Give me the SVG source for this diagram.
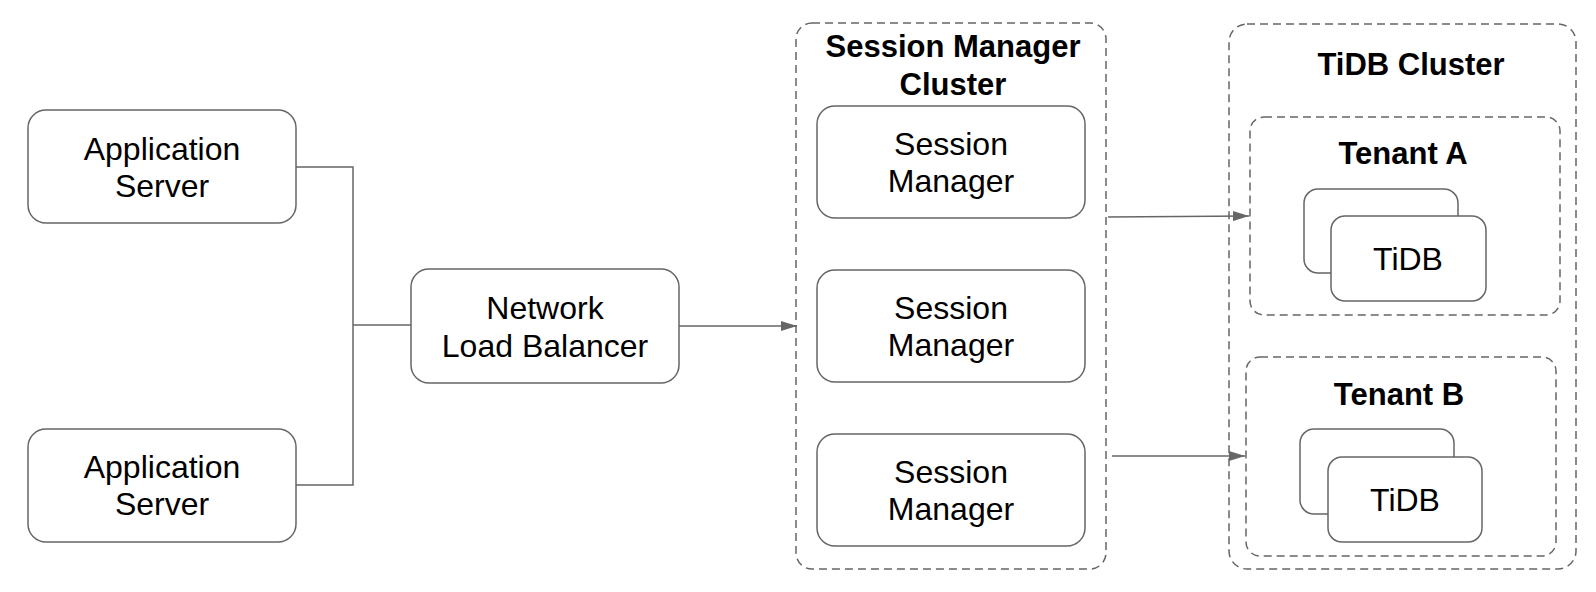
<svg xmlns="http://www.w3.org/2000/svg" width="1596" height="592" viewBox="0 0 1596 592">
<style>
.box{fill:#fff;stroke:#666;stroke-width:1.5}
.grp{fill:none;stroke:#666;stroke-width:1.5;stroke-dasharray:8 5}
.t{font-family:"Liberation Sans",Arial,Helvetica,sans-serif;font-size:32px;fill:#000;text-anchor:middle}
.tb{font-family:"Liberation Sans",Arial,Helvetica,sans-serif;font-size:31px;font-weight:bold;fill:#000;text-anchor:middle}
.td{font-size:32px}
.ln{fill:none;stroke:#666;stroke-width:1.5}
</style>
<defs>
<marker id="ah" markerWidth="16" markerHeight="10" refX="16" refY="5" orient="auto" markerUnits="userSpaceOnUse">
<path d="M0,0 L16,5 L0,10 Z" fill="#666"/>
</marker>
</defs>
<rect width="1596" height="592" fill="#fff"/>

<g id="sm-cluster">
<rect class="grp" x="796" y="23" width="310" height="546" rx="16"/>
<text class="tb" x="953" y="57">Session Manager</text>
<text class="tb" x="953" y="95">Cluster</text>
</g>

<g id="tidb-cluster">
<rect class="grp" x="1229" y="24" width="347" height="545" rx="18"/>
<text class="tb" x="1411" y="75">TiDB Cluster</text>
</g>

<g id="tenant-a">
<rect class="grp" x="1250" y="117" width="310" height="198" rx="14"/>
<text class="tb" x="1403" y="164">Tenant A</text>
<rect class="box" x="1304" y="189" width="154" height="84" rx="14"/>
<rect class="box" x="1331" y="216" width="155" height="85" rx="14"/>
<text class="t td" x="1408" y="270">TiDB</text>
</g>

<g id="tenant-b">
<rect class="grp" x="1246" y="357" width="310" height="199" rx="14"/>
<text class="tb" x="1399" y="405">Tenant B</text>
<rect class="box" x="1300" y="429" width="154" height="85" rx="14"/>
<rect class="box" x="1328" y="457" width="154" height="85" rx="14"/>
<text class="t td" x="1405" y="511">TiDB</text>
</g>

<g id="connectors">
<polyline class="ln" points="296,167 353,167 353,485 296,485"/>
<line class="ln" x1="353" y1="325" x2="411" y2="325"/>
<line class="ln" x1="679" y1="326" x2="797" y2="326" marker-end="url(#ah)"/>
<line class="ln" x1="1108" y1="217" x2="1249" y2="216" marker-end="url(#ah)"/>
<line class="ln" x1="1112" y1="456" x2="1245" y2="456" marker-end="url(#ah)"/>
</g>

<g id="app-server-1">
<rect class="box" x="28" y="110" width="268" height="113" rx="18"/>
<text class="t" x="162" y="160">Application</text>
<text class="t" x="162" y="197">Server</text>
</g>

<g id="app-server-2">
<rect class="box" x="28" y="429" width="268" height="113" rx="18"/>
<text class="t" x="162" y="478">Application</text>
<text class="t" x="162" y="515">Server</text>
</g>

<g id="nlb">
<rect class="box" x="411" y="269" width="268" height="114" rx="18"/>
<text class="t" x="545" y="319">Network</text>
<text class="t" x="545" y="357">Load Balancer</text>
</g>

<g id="session-manager-1">
<rect class="box" x="817" y="106" width="268" height="112" rx="18"/>
<text class="t" x="951" y="155">Session</text>
<text class="t" x="951" y="192">Manager</text>
</g>

<g id="session-manager-2">
<rect class="box" x="817" y="270" width="268" height="112" rx="18"/>
<text class="t" x="951" y="319">Session</text>
<text class="t" x="951" y="356">Manager</text>
</g>

<g id="session-manager-3">
<rect class="box" x="817" y="434" width="268" height="112" rx="18"/>
<text class="t" x="951" y="483">Session</text>
<text class="t" x="951" y="520">Manager</text>
</g>
</svg>
